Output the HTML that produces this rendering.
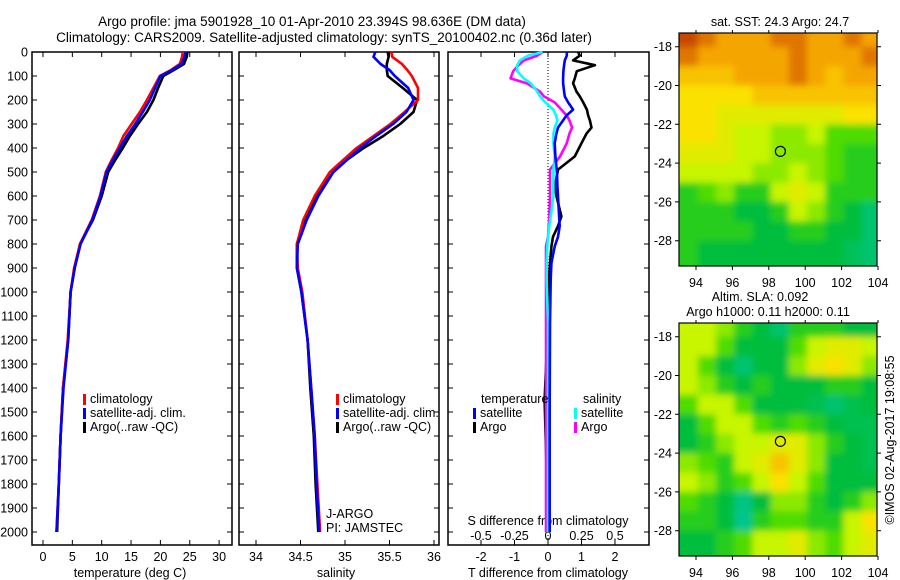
<!DOCTYPE html>
<html><head><meta charset="utf-8"><style>
html,body{margin:0;padding:0;background:#fff;}
svg{display:block;font-family:"Liberation Sans",sans-serif;}
text{font-size:12.5px;fill:#000;}
</style></head><body>
<svg id="c" width="900" height="580" viewBox="0 0 900 580" xmlns="http://www.w3.org/2000/svg">
<defs>
<filter id="bl" x="-10%" y="-10%" width="120%" height="120%"><feGaussianBlur stdDeviation="3.5"/></filter>
<clipPath id="m1"><rect x="679" y="33" width="198" height="233"/></clipPath>
<clipPath id="m2"><rect x="679" y="323" width="198" height="233"/></clipPath>
</defs>
<text x="312" y="26" text-anchor="middle" style="font-size:13.5px">Argo profile: jma 5901928_10 01-Apr-2010 23.394S 98.636E (DM data)</text>
<text x="324" y="42" text-anchor="middle" style="font-size:13.5px">Climatology: CARS2009. Satellite-adjusted climatology: synTS_20100402.nc (0.36d later)</text>
<text x="780" y="26" text-anchor="middle">sat. SST: 24.3 Argo: 24.7</text>
<text x="760" y="301" text-anchor="middle">Altim. SLA: 0.092</text>
<text x="768" y="316" text-anchor="middle">Argo h1000: 0.11 h2000: 0.11</text>
<text transform="translate(894,440) rotate(-90)" text-anchor="middle">©IMOS 02-Aug-2017 19:08:55</text>
<g id="g"></g>
</svg>
<script>
// depth levels (dbar)
const depths = [0,20,50,75,100,150,200,250,300,350,400,450,500,600,700,800,900,1000,1200,1400,1600,1800,2000];
// temperature (deg C)
const tempClim = [23.8,23.7,23.3,21.8,19.9,18.8,17.7,16.5,15.1,13.7,12.8,11.7,10.7,9.7,8.3,6.3,5.3,4.7,4.2,3.4,3.0,2.7,2.3];
const tempSat  = [24.3,24.1,23.6,22.0,20.0,19.1,18.2,17.0,15.7,14.3,13.1,11.9,10.8,9.8,8.4,6.4,5.4,4.7,4.3,3.5,3.0,2.7,2.3];
const tempArgo = [24.6,24.5,24.0,22.3,20.5,19.6,18.8,17.7,16.2,14.8,13.6,12.3,11.1,10.0,8.5,6.3,5.4,4.7,4.3,3.4,3.0,2.7,2.4];
// salinity
const salClim = [35.52,35.53,35.64,35.70,35.75,35.82,35.82,35.67,35.51,35.32,35.13,34.98,34.83,34.66,34.53,34.46,34.47,34.52,34.58,34.62,34.66,34.69,34.72];
const salSat  = [35.34,35.32,35.40,35.50,35.56,35.71,35.77,35.69,35.54,35.35,35.17,35.02,34.87,34.70,34.57,34.47,34.46,34.51,34.58,34.62,34.66,34.68,34.71];
const salArgo = [35.48,35.49,35.47,35.47,35.48,35.65,35.81,35.77,35.62,35.43,35.21,35.02,34.87,34.68,34.55,34.46,34.46,34.51,34.58,34.61,34.65,34.67,34.70];
// differences from climatology
const diffDepths = [0,15,35,55,80,110,130,165,185,210,240,265,285,315,340,380,435,490,505,560,600,685,725,770,810,880,950,1130,1450,1700,2000];
const dTArgo = [0.9,0.95,0.75,1.4,0.86,0.8,0.75,0.85,0.95,1.05,1.16,1.2,1.25,1.3,1.15,1.0,0.8,0.3,0.28,0.2,0.25,0.4,0.3,0.15,0.1,0.06,0.03,0.0,-0.1,-0.05,0.0];
const dTSat  = [0.56,0.56,0.5,0.48,0.46,0.45,0.45,0.48,0.5,0.6,0.75,0.55,0.45,0.3,0.25,0.2,0.22,0.26,0.27,0.28,0.3,0.33,0.35,0.3,0.2,0.1,0.08,0.06,0.05,0.05,0.05];
const dSSat  = [-0.04,-0.15,-0.21,-0.23,-0.23,-0.18,-0.13,-0.08,-0.06,-0.02,0.04,0.06,0.07,0.05,0.04,0.04,0.05,0.04,0.04,0.04,0.04,0.02,0.01,0.0,-0.005,-0.01,-0.01,0.0,0.0,0.0,0.0];
const dSArgo = [-0.04,-0.08,-0.18,-0.22,-0.26,-0.28,-0.16,-0.06,-0.03,0.05,0.1,0.14,0.16,0.18,0.16,0.14,0.09,0.015,0.015,0.015,0.015,0.01,0.005,0.0,-0.015,-0.015,-0.015,-0.015,-0.015,-0.015,-0.015];
// map fields (rows lat -17.5..-28.5, cols lon 93.6..103.6), colour index 0..6
const sstGrid = [
[6,5.5,5,5,5,5.5,5.5,5,5,5.5,5],
[5.5,5,5,5,5,5,5.5,5,5,5,5.5],
[4.5,4.5,4.5,5,5,5,5.5,5,4.5,5,5],
[4,4,4,4,4.5,4.5,4.5,4.5,4.5,4.5,4.5],
[4,4,3.5,3.5,3.5,3.5,3.5,3.5,3.5,4,4],
[4,4,3.5,3,3,2.5,2.5,3,2,2,2],
[3.5,3.5,3.5,3,3,2.5,2.5,2.5,2,1.5,1.5],
[3,3,3,3,2.5,2.5,3,2.5,2,1.5,1.5],
[1.5,2,2.5,1.5,1.5,3,3.5,3,1.5,1.5,1.5],
[1.5,1.5,1.5,1,1,1.5,3,2.5,1.5,1,0.5],
[1.5,1.5,1.5,1.5,1,1,1.5,1.5,1,1,0.5],
[1.5,1,1,1,1,1,1,1,1,0.7,0.5]];
const slaGrid = [
[3,3,2.5,1.5,1,0.5,1.5,1.5,1.5,1,1],
[3,3,2,1,1,1,2,3,3.5,3.5,3],
[3,2,1,0.5,1,1,2.5,3.5,4,3.5,2.5],
[3,2.5,1.5,1,1.5,1,1,1,1.5,1.5,1],
[2,3,3,2,1,1,1,0.8,0.5,0.8,1],
[1,2,3,3,2,1.5,2,1.5,1,0.8,0.8],
[1,1.5,2.5,3,3,3.5,3.5,2.5,1.5,1,0.8],
[2.5,2,1.5,3,3.5,4.5,3.5,2.5,1,1,0.8],
[3,2.5,1.5,2,3,4,3,2,1,1,1],
[2,1.5,1,0.3,1,2.5,2.5,1.5,1,1.5,2.5],
[1.5,1.5,1,0.2,1.5,2,2,1.5,1.5,3,4],
[1,1,1.5,2,3,3,3.5,2.5,2,3,3.5]];
const depthTicks = [0,100,200,300,400,500,600,700,800,900,1000,1100,1200,1300,1400,1500,1600,1700,1800,1900,2000];
const tempTicks = [0,5,10,15,20,25,30];
const salTicks = [34,34.5,35,35.5,36];
const tdTicks = [-2,-1,0,1,2];
const sdTicks = [-0.5,-0.25,0,0.25,0.5];
const sdLabels = ["-0.5","-0.25","0","0.25","0.5"];
const latTicks = [-18,-20,-22,-24,-26,-28];
const lonTicks = [94,96,98,100,102,104];

const NS="http://www.w3.org/2000/svg", G=document.getElementById('g');
function el(t,a,p){const e=document.createElementNS(NS,t);for(const k in a)e.setAttribute(k,a[k]);(p||G).appendChild(e);return e;}
function txt(s,x,y,anchor,p){const e=el('text',{x:x,y:y,'text-anchor':anchor||'middle'},p);e.textContent=s;return e;}
const yD=d=>52+d*0.24;
const xT=t=>43+t*5.87;
const xS=s=>256+(s-34)*89;
const xTD=v=>548+v*33.5;
const xSD=v=>548+v*134;
const BOT=545;
const panels=[[32,232],[239,439],[448,649]];
panels.forEach((p,i)=>{
  const r=el('rect',{x:p[0],y:52,width:p[1]-p[0],height:BOT-52,fill:'none',stroke:'#000','stroke-width':1.5});
  
  
  depthTicks.forEach(d=>{
    const t=el('path',{d:`M${p[0]} ${yD(d)}h5M${p[1]} ${yD(d)}h-5`,stroke:'#000','stroke-width':1});
    
    
  });
});
depthTicks.forEach(d=>{
  const t=txt(String(d),28,yD(d)+4.5,'end');
  
  
});
function xTicks(ticks,fx,labels,ly,p,top){
  ticks.forEach((v,i)=>{
    const x=fx(v);
    const t=el('path',{d:`M${x} ${BOT}v-5`+(top?`M${x} 52v5`:''),stroke:'#000'});
    
    
    const l=txt(labels?labels[i]:String(v),x,ly);
    
    
  });
}
xTicks(tempTicks,xT,null,561,0,true);
xTicks(salTicks,xS,null,561,0,true);
xTicks(tdTicks,xTD,null,561,0,true);
xTicks(sdTicks,xSD,sdLabels,540,0,false);
let a;
a=txt('temperature (deg C)',130,577);
a=txt('salinity',336,577);
a=txt('T difference from climatology',548,577);
a=txt('S difference from climatology',548,525);
const z=el('line',{x1:548,x2:548,y1:52,y2:BOT,stroke:'#000','stroke-dasharray':'1,2'});


function line(xs,ds,fx,col,name){
  const pts=xs.map((v,i)=>fx(v).toFixed(1)+','+yD(ds[i]).toFixed(1)).join(' ');
  const l=el('polyline',{points:pts,fill:'none',stroke:col,'stroke-width':2.6,'stroke-linejoin':'round'});
  
  
}
line(tempArgo,depths,xT,'#000','temp-argo-line');
line(tempClim,depths,xT,'#f00','temp-climatology-line');
line(tempSat,depths,xT,'#00f','temp-satellite-line');
line(salArgo,depths,xS,'#000','sal-argo-line');
line(salClim,depths,xS,'#f00','sal-climatology-line');
line(salSat,depths,xS,'#00f','sal-satellite-line');
line(dTArgo,diffDepths,xTD,'#000','tdiff-argo-line');
line(dSArgo,diffDepths,xSD,'#f0f','sdiff-argo-line');
line(dSSat,diffDepths,xSD,'#0ff','sdiff-satellite-line');
line(dTSat,diffDepths,xTD,'#00f','tdiff-satellite-line');
function leg(x,y,col,label,name){
  const m=el('rect',{x:x,y:y-9,width:3,height:11,fill:col});
  
  
  const t=txt(label,x+7,y,'start');
  
  
}
[[83,'#f00','climatology'],[83,'#00f','satellite-adj. clim.'],[83,'#000','Argo(..raw -QC)']].forEach((r,i)=>leg(r[0],403+i*14,r[1],r[2],'temp-legend-'+i));
[[336,'#f00','climatology'],[336,'#00f','satellite-adj. clim.'],[336,'#000','Argo(..raw -QC)']].forEach((r,i)=>leg(r[0],403+i*14,r[1],r[2],'sal-legend-'+i));
a=txt('temperature',481,403,'start');
a=txt('salinity',583,403,'start');
leg(473,417,'#00f','satellite','diff-legend-t-sat');
leg(473,431,'#000','Argo','diff-legend-t-argo');
leg(574,417,'#0ff','satellite','diff-legend-s-sat');
leg(574,431,'#f0f','Argo','diff-legend-s-argo');
a=txt('J-ARGO',326,518,'start');
a=txt('PI: JAMSTEC',326,532,'start');

// maps
const stops=[[0,200,160],[0,190,60],[80,220,0],[200,245,0],[250,225,0],[245,165,0],[200,70,0]];
function cmap(v){v=Math.max(0,Math.min(6,v));const i=Math.min(5,Math.floor(v)),f=v-i,a=stops[i],b=stops[i+1];
  return 'rgb('+a.map((c,k)=>Math.round(c+(b[k]-c)*f)).join(',')+')';}
const lonX=lon=>696+(lon-94)*18.2;
function map(grid,top,clip,name){
  const latY=lat=>top+13.7+(-18-lat)*19.4;
  const outer=el('g',{'clip-path':'url(#'+clip+')'});
  
  
  const inner=el('g',{filter:'url(#bl)'},outer);
  grid.forEach((row,r)=>row.forEach((v,c)=>{
    let x0=lonX(93.1+c),x1=lonX(94.1+c),y0=latY(-17.0-r),y1=latY(-18.0-r);
    if(c==0)x0-=20; if(c==row.length-1)x1+=20; if(r==0)y0-=20; if(r==grid.length-1)y1+=20;
    const cell=el('rect',{x:x0,y:y0,width:x1-x0+0.5,height:y1-y0+0.5,fill:cmap(v)},inner);
    
    
  }));
  const f=el('rect',{x:679,y:top,width:198,height:233,fill:'none',stroke:'#000','stroke-width':1.2});
  
  
  latTicks.forEach(l=>{
    const t=el('path',{d:`M679 ${latY(l)}h-4M877 ${latY(l)}h4`,stroke:'#000'});
    
    
    const lb=txt(String(l),672,latY(l)+4.5,'end');
    
    
  });
  lonTicks.forEach(l=>{
    const t=el('path',{d:`M${lonX(l)} ${top+233}v4M${lonX(l)} ${top}v-3`,stroke:'#000'});
    
    
    const lb=txt(String(l),lonX(l),top+254);
    
    
  });
  const ci=el('circle',{cx:lonX(98.636),cy:latY(-23.394),r:5,fill:'none',stroke:'#000','stroke-width':1.2});
  
  
}
map(sstGrid,33,'m1','sst-map');
map(slaGrid,323,'m2','sla-map');
</script>
</body></html>
